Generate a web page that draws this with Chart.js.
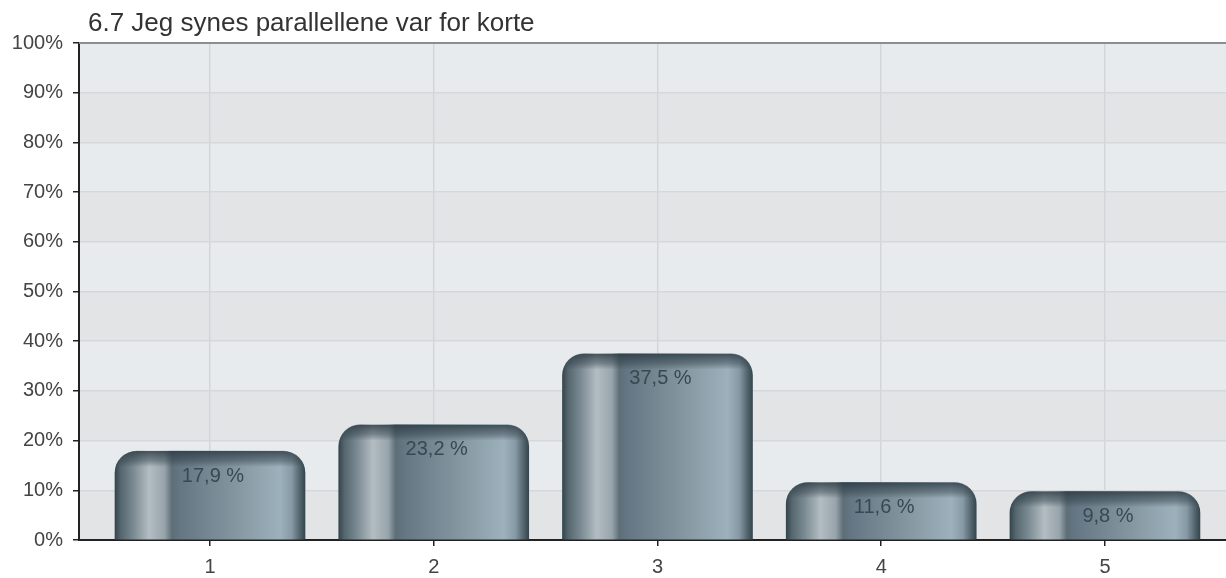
<!DOCTYPE html>
<html>
<head>
<meta charset="utf-8">
<script src="https://cdn.jsdelivr.net/npm/chart.js@4/dist/chart.umd.min.js"></script>
<style>
  html, body { margin: 0; padding: 0; background: #ffffff; }
  #wrap { width: 1226px; height: 578px; }
</style>
</head>
<body>
<div id="wrap"><canvas id="surveyChart" width="1226" height="578"></canvas></div>
<script>
// chart data
const chartTitle = "6.7 Jeg synes parallellene var for korte";
const categories = ["1", "2", "3", "4", "5"];
const percentValues = [17.9, 23.2, 37.5, 11.6, 9.8];
const yTickValues = [0, 10, 20, 30, 40, 50, 60, 70, 80, 90, 100];

const fontFamily = '"Liberation Sans", Arial, sans-serif';

// x positions of each column (1..5)
const points = categories.map((c, i) => ({ x: i + 1, y: percentValues[i] }));

// horizontal cylinder look for each bar
function barGradient(context) {
    const chart = context.chart;
    const xScale = chart.scales.x;
    if (!chart.chartArea || !xScale || context.dataIndex === undefined) return "#6f818b";
    const cx = xScale.getPixelForValue(context.dataIndex + 1);
    const half = 95;
    const g = chart.ctx.createLinearGradient(cx - half, 0, cx + half, 0);
    g.addColorStop(0.00, "#35454e");
    g.addColorStop(0.03, "#55666f");
    g.addColorStop(0.10, "#7d8c94");
    g.addColorStop(0.18, "#b3bdc2");
    g.addColorStop(0.26, "#98a4ab");
    g.addColorStop(0.30, "#5d6e77");
    g.addColorStop(0.34, "#647683");
    g.addColorStop(0.60, "#80939d");
    g.addColorStop(0.87, "#9db1bc");
    g.addColorStop(0.93, "#8699a4");
    g.addColorStop(0.975, "#51626b");
    g.addColorStop(1.00, "#36454e");
    return g;
}

// alternating bands behind the grid + top frame line + title
const bandsPlugin = {
    id: "bands",
    beforeDraw(chart) {
        const { ctx, chartArea, scales } = chart;
        const y = scales.y;
        ctx.save();
        for (let i = 0; i < yTickValues.length - 1; i++) {
            const top = y.getPixelForValue(yTickValues[i + 1]);
            const bottom = y.getPixelForValue(yTickValues[i]);
            ctx.fillStyle = (i % 2 === 1) ? "#e8ebee" : "#e3e4e6";
            ctx.fillRect(chartArea.left, top, chartArea.right - chartArea.left, bottom - top);
        }
        ctx.restore();
    },
    afterDraw(chart) {
        const { ctx, chartArea } = chart;
        ctx.save();
        ctx.strokeStyle = "#8c8f92";
        ctx.lineWidth = 2;
        ctx.beginPath();
        ctx.moveTo(chartArea.left, chartArea.top);
        ctx.lineTo(chartArea.right, chartArea.top);
        ctx.stroke();

        // title
        ctx.fillStyle = "#333333";
        ctx.font = "26px " + fontFamily;
        ctx.textBaseline = "alphabetic";
        ctx.textAlign = "left";
        ctx.fillText(chartTitle, 88, 31);
        ctx.restore();
    }
};

// darker cap on top of each bar and the value label
const barExtrasPlugin = {
    id: "barExtras",
    afterDatasetsDraw(chart) {
        const { ctx } = chart;
        const meta = chart.getDatasetMeta(0);
        ctx.save();
        meta.data.forEach((bar, i) => {
            const left = bar.x - bar.width / 2;
            const top = bar.y;
            const r = 22;
            ctx.save();
            ctx.beginPath();
            ctx.moveTo(left, bar.base);
            ctx.lineTo(left, top + r);
            ctx.arcTo(left, top, left + r, top, r);
            ctx.lineTo(left + bar.width - r, top);
            ctx.arcTo(left + bar.width, top, left + bar.width, top + r, r);
            ctx.lineTo(left + bar.width, bar.base);
            ctx.closePath();
            ctx.clip();
            const g = ctx.createLinearGradient(0, top, 0, top + 16);
            g.addColorStop(0, "rgba(40,55,64,0.8)");
            g.addColorStop(0.6, "rgba(50,65,74,0.45)");
            g.addColorStop(1, "rgba(50,65,74,0)");
            ctx.fillStyle = g;
            ctx.fillRect(left, top, bar.width, 16);
            ctx.restore();

            ctx.fillStyle = "#3a4850";
            ctx.font = "20px " + fontFamily;
            ctx.textAlign = "center";
            ctx.textBaseline = "middle";
            const txt = percentValues[i].toFixed(1).replace(".", ",") + " %";
            ctx.fillText(txt, bar.x + 3, top + 25);
        });
        ctx.restore();
    }
};

const ctx = document.getElementById("surveyChart").getContext("2d");

new Chart(ctx, {
    type: "bar",
    data: {
        datasets: [{
            label: chartTitle,
            data: points,
            backgroundColor: barGradient,
            borderWidth: 0,
            borderSkipped: "bottom",
            borderRadius: { topLeft: 22, topRight: 22, bottomLeft: 0, bottomRight: 0 },
            barThickness: 190
        }]
    },
    options: {
        responsive: false,
        animation: false,
        devicePixelRatio: 1,
        layout: { padding: { top: 43, right: 0, left: 0, bottom: 0 } },
        plugins: {
            legend: { display: false },
            title: { display: false },
            tooltip: { enabled: false }
        },
        scales: {
            x: {
                type: "linear",
                offset: false,
                min: 0.4145,
                max: 5.541,
                afterFit(scale) { scale.height = 38; },
                afterBuildTicks(scale) {
                    scale.ticks = categories.map((c, i) => ({ value: i + 1 }));
                },
                ticks: {
                    callback: (v) => categories[v - 1],
                    color: "#444444",
                    font: { family: fontFamily, size: 20 },
                    padding: 9,
                    maxRotation: 0
                },
                grid: {
                    offset: false,
                    color: "#d3d6d9",
                    lineWidth: 1.5,
                    tickColor: "#222222",
                    tickLength: 6
                },
                border: { display: true, color: "#222222", width: 2 }
            },
            y: {
                min: 0,
                max: 100,
                afterFit(scale) { scale.width = 79; },
                ticks: {
                    stepSize: 10,
                    callback: (v) => v + "%",
                    color: "#444444",
                    font: { family: fontFamily, size: 20 },
                    padding: 10
                },
                grid: {
                    color: "#d6d7d9",
                    lineWidth: 1.5,
                    tickColor: "#222222",
                    tickLength: 6
                },
                border: { display: true, color: "#222222", width: 2 }
            }
        }
    },
    plugins: [bandsPlugin, barExtrasPlugin]
});
</script>
</body>
</html>
